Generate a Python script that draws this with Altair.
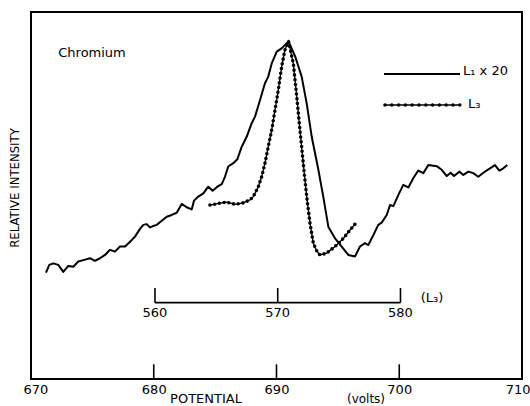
import altair as alt
import pandas as pd

# L1 spectrum (scaled x 20): potential in volts, relative intensity
L1_POT = [671.22, 671.49, 671.82, 672.22, 672.63, 673.04, 673.45, 673.85, 674.26, 674.81,
          675.21, 675.62, 676.03, 676.44, 676.84, 677.25, 677.66, 678.07, 678.47, 678.88,
          679.15, 679.43, 679.69, 679.96, 680.24, 680.65, 681.06, 681.46, 681.87, 682.28,
          682.68, 683.09, 683.28, 683.63, 684.04, 684.44, 684.80, 685.18, 685.54, 685.80,
          686.07, 686.48, 686.81, 687.17, 687.57, 687.98, 688.25, 688.66, 689.06, 689.33,
          689.61, 690.02, 690.42, 690.98, 691.51, 692.05, 692.46, 692.87, 693.41, 693.81,
          694.22, 694.77, 695.31, 695.85, 696.40, 696.80, 697.21, 697.48, 697.89, 698.29,
          698.57, 698.98, 699.25, 699.52, 699.92, 700.33, 700.74, 701.14, 701.55, 701.96,
          702.37, 703.05, 703.46, 703.87, 704.19, 704.46, 704.89, 705.22, 705.63, 706.03,
          706.44, 706.85, 707.39, 707.80, 708.15, 708.48, 708.80]
L1_INT = [29.0, 31.1, 31.5, 31.1, 29.2, 30.8, 30.6, 32.0, 32.4, 32.9,
          32.2, 32.9, 33.8, 35.2, 34.7, 36.1, 36.1, 37.4, 38.8, 40.9,
          42.0, 42.2, 41.3, 41.7, 42.0, 43.1, 44.2, 44.7, 45.3, 47.7,
          46.8, 46.2, 48.6, 49.7, 50.6, 52.4, 51.3, 52.4, 53.1, 55.1,
          57.9, 58.8, 59.9, 63.3, 66.0, 69.7, 71.5, 76.0, 80.6, 82.4,
          86.0, 89.2, 90.1, 92.0, 88.0, 82.4, 75.1, 66.0, 57.0, 49.7,
          41.5, 38.3, 36.1, 33.8, 33.4, 36.1, 37.0, 36.5, 39.2, 42.0,
          42.6, 44.7, 47.4, 47.1, 50.1, 52.9, 52.2, 54.7, 56.8, 56.1,
          58.3, 58.0, 57.0, 55.3, 56.2, 55.3, 56.5, 55.6, 56.5, 56.1,
          55.1, 56.2, 57.4, 58.3, 56.8, 57.4, 58.3]

# L3 spectrum: potential on its own (L3) scale, relative intensity
L3_POT = [564.48, 565.30, 565.84, 566.52, 567.20, 567.74, 568.01, 568.42, 568.69, 568.96,
          569.23, 569.51, 569.78, 570.05, 570.32, 570.59, 570.88, 571.27, 571.55, 571.81,
          572.08, 572.36, 572.63, 572.90, 573.18, 573.44, 573.99, 574.67, 575.34, 575.89,
          576.30]
L3_INT = [47.4, 47.9, 48.2, 47.6, 48.0, 48.8, 49.7, 52.4, 55.1, 58.8,
          63.3, 67.9, 73.3, 78.8, 85.1, 89.7, 92.0, 86.0, 76.9, 67.9,
          58.8, 49.7, 42.4, 37.0, 34.9, 33.8, 34.3, 36.1, 38.3, 40.6,
          42.2]

# Axis tick values
MAIN_TICKS = [670, 680, 690, 700, 710]
INNER_TICKS = [680, 690, 700]
L3_TICKS = [560, 570, 580]
L3_SHIFT = 120.1          # L3 scale -> main potential scale
L3_AXIS_LEVEL = 20.8      # height of the inner L3 scale bar
TICK_LEN = 4.0

FONT = "DejaVu Sans"
NARROW = "Liberation Sans Narrow, DejaVu Sans Condensed, sans-serif"

l1 = pd.DataFrame({"pot": L1_POT, "inten": L1_INT})
l3 = pd.DataFrame({"pot3": L3_POT, "inten": L3_INT})
main_ticks = pd.DataFrame({"pot": INNER_TICKS})
l3_ticks = pd.DataFrame({"pot3": L3_TICKS})
one = pd.DataFrame({"k": [0]})

x_scale = alt.Scale(domain=[670, 710], nice=False, zero=False)
y_scale = alt.Scale(domain=[0, 100], nice=False, zero=False)

x_axis = alt.Axis(values=MAIN_TICKS, title=None, ticks=False, domain=False, grid=False,
                  labelFont=FONT, labelFontSize=13, labelColor="black", labelPadding=4,
                  labelFlush=True, labelFlushOffset=8)

l1_line = alt.Chart(l1).mark_line(color="black", strokeWidth=2, strokeJoin="round").encode(
    x=alt.X("pot:Q", scale=x_scale, axis=x_axis),
    y=alt.Y("inten:Q", scale=y_scale, axis=None),
    order="pot:Q",
)

l3_base = alt.Chart(l3).transform_calculate(pot=f"datum.pot3 + {L3_SHIFT}")
l3_line = l3_base.mark_line(color="black", strokeWidth=1.3).encode(
    x=alt.X("pot:Q", scale=x_scale), y=alt.Y("inten:Q", scale=y_scale), order="pot:Q")
l3_dots = l3_base.mark_line(color="black", strokeWidth=3.6, strokeCap="round",
                            strokeDash=[0, 4.8]).encode(
    x=alt.X("pot:Q", scale=x_scale), y=alt.Y("inten:Q", scale=y_scale), order="pot:Q")

# inward ticks on the potential axis
bottom_ticks = alt.Chart(main_ticks).mark_rule(color="black", strokeWidth=1.6).encode(
    x=alt.X("pot:Q", scale=x_scale), y=alt.datum(0), y2=alt.datum(TICK_LEN))

# inner L3 scale bar
l3_axis_base = alt.Chart(l3_ticks).transform_calculate(pot=f"datum.pot3 + {L3_SHIFT}")
l3_bar = alt.Chart(one).transform_calculate(
    a=f"{min(L3_TICKS)} + {L3_SHIFT}", b=f"{max(L3_TICKS)} + {L3_SHIFT}"
).mark_rule(color="black", strokeWidth=1.6).encode(
    x=alt.X("a:Q", scale=x_scale), x2="b:Q", y=alt.datum(L3_AXIS_LEVEL))
l3_tick_marks = l3_axis_base.mark_rule(color="black", strokeWidth=1.6).encode(
    x=alt.X("pot:Q", scale=x_scale), y=alt.datum(L3_AXIS_LEVEL),
    y2=alt.datum(L3_AXIS_LEVEL + TICK_LEN))
l3_tick_labels = l3_axis_base.mark_text(font=FONT, fontSize=13, baseline="top", dy=4,
                                        color="black").encode(
    x=alt.X("pot:Q", scale=x_scale), y=alt.datum(L3_AXIS_LEVEL), text="pot3:Q")


def label(text, x, y, size=13, align="center", font=FONT, angle=0):
    props = dict(text=text, font=font, fontSize=size, align=align, baseline="middle",
                 color="black")
    if angle:
        props["angle"] = angle
    return alt.Chart(one).mark_text(**props).encode(x=alt.value(x), y=alt.value(y))


texts = [
    label("Chromium", 61, 41),
    label("L\u2081 x 20", 432, 59, align="left"),
    label("L\u2083", 437, 92, align="left"),
    label("(L\u2083)", 401, 286),
    label("POTENTIAL", 175, 387),
    label("(volts)", 335, 387, size=12),
    label("RELATIVE INTENSITY", -16, 176, size=13, font=NARROW, angle=270),
]

legend_solid = alt.Chart(one).mark_rule(color="black", strokeWidth=2).encode(
    x=alt.value(353), x2=alt.value(429), y=alt.value(62))
legend_thin = alt.Chart(one).mark_rule(color="black", strokeWidth=1.3).encode(
    x=alt.value(354), x2=alt.value(429), y=alt.value(93))
legend_dots = alt.Chart(one).mark_rule(color="black", strokeWidth=3.6, strokeCap="round",
                                       strokeDash=[0, 6.8]).encode(
    x=alt.value(354), x2=alt.value(429), y=alt.value(93))

chart = alt.layer(
    l1_line, l3_line, l3_dots, bottom_ticks, l3_bar, l3_tick_marks, l3_tick_labels,
    legend_solid, legend_thin, legend_dots, *texts
).properties(
    width=491, height=367,
    padding={"left": 31, "top": 12, "right": 8, "bottom": 27},
    autosize="none",
    background="white",
).configure_view(stroke="black", strokeWidth=2)

chart.save("out.html", embed_options={"renderer": "svg", "actions": False})
